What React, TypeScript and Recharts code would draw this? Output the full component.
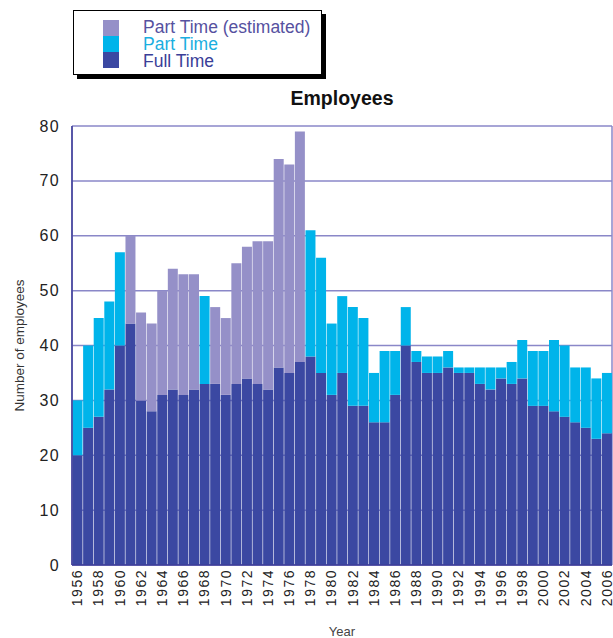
import React from 'react';
import { BarChart, Bar, XAxis, YAxis, CartesianGrid, Legend } from 'recharts';

const years = [
  1956, 1957, 1958, 1959, 1960, 1961, 1962, 1963, 1964, 1965,
  1966, 1967, 1968, 1969, 1970, 1971, 1972, 1973, 1974, 1975,
  1976, 1977, 1978, 1979, 1980, 1981, 1982, 1983, 1984, 1985,
  1986, 1987, 1988, 1989, 1990, 1991, 1992, 1993, 1994, 1995,
  1996, 1997, 1998, 1999, 2000, 2001, 2002, 2003, 2004, 2005,
  2006,
];

const fullTime = [
  20, 25, 27, 32, 40, 44, 30, 28, 31, 32,
  31, 32, 33, 33, 31, 33, 34, 33, 32, 36,
  35, 37, 38, 35, 31, 35, 29, 29, 26, 26,
  31, 40, 37, 35, 35, 36, 35, 35, 33, 32,
  34, 33, 34, 29, 29, 28, 27, 26, 25, 23,
  24,
];

const partTime = [
  10, 15, 18, 16, 17, 0, 0, 0, 0, 0,
  0, 0, 16, 0, 0, 0, 0, 0, 0, 0,
  0, 0, 23, 21, 13, 14, 18, 16, 9, 13,
  8, 7, 2, 3, 3, 3, 1, 1, 3, 4,
  2, 4, 7, 10, 10, 13, 13, 10, 11, 11,
  11,
];

const partTimeEstimated = [
  0, 0, 0, 0, 0, 16, 16, 16, 19, 22,
  22, 21, 0, 14, 14, 22, 24, 26, 27, 38,
  38, 42, 0, 0, 0, 0, 0, 0, 0, 0,
  0, 0, 0, 0, 0, 0, 0, 0, 0, 0,
  0, 0, 0, 0, 0, 0, 0, 0, 0, 0,
  0,
];

const yTicks = [0, 10, 20, 30, 40, 50, 60, 70, 80];
const yMinorTicks = [
  0, 2, 4, 6, 8, 10, 12, 14, 16, 18, 20, 22, 24, 26, 28, 30, 32, 34, 36, 38,
  40, 42, 44, 46, 48, 50, 52, 54, 56, 58, 60, 62, 64, 66, 68, 70, 72, 74, 76, 78, 80,
];

const data = years.map((year, i) => ({
  year,
  full: fullTime[i],
  part: partTime[i],
  est: partTimeEstimated[i],
}));

// vertical grid lines sit on the band boundaries before every even year
const gridTicks = years.filter((y, i) => i > 0 && y % 2 === 0).map((y) => y - 0.5);

const FONT = '"Liberation Sans", Arial, Helvetica, sans-serif';
const C_FULL = '#3b48a2';
const C_PART = '#00b4ea';
const C_EST = '#9590c8';
const C_GRID = '#8a87c8';
const C_AXIS = '#3e3e98';

const legendTextColor: Record<string, string> = {
  est: '#56519f',
  part: '#1aaee0',
  full: '#3a3e98',
};

const XTick = (props: any) => {
  const { x, y, payload } = props;
  return (
    <text
      x={x}
      y={y}
      transform={`rotate(-90 ${x} ${y})`}
      textAnchor="end"
      dominantBaseline="central"
      fontSize={14}
      letterSpacing={1.5}
      fill="#222"
      fontFamily={FONT}
    >
      {payload.value}
    </text>
  );
};

const YTick = (props: any) => {
  const { x, y, payload } = props;
  return (
    <text
      x={x}
      y={y}
      textAnchor="end"
      dominantBaseline="central"
      fontSize={16}
      letterSpacing={1.3}
      fill="#222"
      fontFamily={FONT}
    >
      {payload.value}
    </text>
  );
};

const renderLegend = (props: any) => {
  const items = [...(props.payload || [])].reverse();
  return (
    <div
      style={{
        width: 249,
        height: 65,
        border: '1px solid #000',
        boxShadow: '4px 4px 0 #000',
        background: '#fff',
        boxSizing: 'border-box',
      }}
    >
      <svg width={247} height={63} style={{ display: 'block' }}>
        {items.map((it: any, i: number) => (
          <g key={it.dataKey}>
            <rect x={29} y={9 + i * 16} width={16} height={16} fill={it.color} />
            <text
              x={69}
              y={22 + i * 16.8}
              fontSize={17.5}
              fontFamily={FONT}
              fill={legendTextColor[it.dataKey] || it.color}
            >
              {it.value}
            </text>
          </g>
        ))}
      </svg>
    </div>
  );
};

export default function App() {
  return (
    <div
      style={{
        position: 'absolute',
        left: 0,
        top: 0,
        width: 613,
        height: 638,
        overflow: 'hidden',
        background: '#fff',
        fontFamily: FONT,
      }}
    >
      <div
        style={{
          position: 'absolute',
          left: 72,
          top: 88,
          width: 540,
          textAlign: 'center',
          fontWeight: 'bold',
          fontSize: 19.5,
          lineHeight: '20px',
          color: '#111',
          zIndex: 2,
        }}
      >
        Employees
      </div>
      <BarChart
        width={613}
        height={638}
        data={data}
        margin={{ top: 126, right: 1, bottom: 0, left: 0 }}
        barCategoryGap="5%"
      >
        <CartesianGrid
          xAxisId="grid"
          stroke={C_GRID}
          strokeWidth={1.5}
          vertical
          horizontal
        />
        <XAxis
          dataKey="year"
          height={73}
          interval={1}
          tickSize={0}
          tickMargin={4}
          tickLine={false}
          axisLine={{ stroke: C_AXIS, strokeWidth: 1.5 }}
          tick={<XTick />}
          label={{ value: 'Year', position: 'insideBottom', offset: 2, fontSize: 13, fill: '#444', fontFamily: FONT }}
        />
        <XAxis
          xAxisId="grid"
          type="number"
          orientation="top"
          mirror
          height={0}
          domain={[1955.5, 2006.5]}
          allowDataOverflow
          ticks={gridTicks}
          tick={false}
          tickSize={8}
          tickLine={{ stroke: '#4a4aa0', strokeWidth: 1.5 }}
          axisLine={{ stroke: '#6a68b8', strokeWidth: 1.5 }}
        />
        <YAxis
          domain={[0, 80]}
          ticks={yTicks}
          width={72}
          tickLine={false}
          tickSize={0}
          tickMargin={12}
          axisLine={{ stroke: C_AXIS, strokeWidth: 1.5 }}
          tick={<YTick />}
          label={{
            value: 'Number of employees',
            angle: -90,
            position: 'center',
            dx: -17,
            fontSize: 13.5,
            fill: '#333',
            fontFamily: FONT,
          }}
        />
        <YAxis
          yAxisId="minorL"
          orientation="left"
          mirror
          width={0}
          domain={[0, 80]}
          ticks={yMinorTicks}
          tick={false}
          tickSize={6}
          axisLine={false}
          tickLine={{ stroke: '#4a4aa8', strokeWidth: 1.2 }}
        />
        <YAxis
          yAxisId="minorR"
          orientation="right"
          mirror
          width={0}
          domain={[0, 80]}
          ticks={yMinorTicks}
          tick={false}
          tickSize={8}
          axisLine={{ stroke: '#6a68b8', strokeWidth: 1.5 }}
          tickLine={{ stroke: '#4a4aa8', strokeWidth: 1.2 }}
        />
        <Legend
          layout="horizontal"
          verticalAlign="middle"
          align="center"
          content={renderLegend}
          wrapperStyle={{ left: 73, top: 10, width: 260, height: 70 }}
        />
        <Bar dataKey="full" name="Full Time" stackId="a" fill={C_FULL} isAnimationActive={false} />
        <Bar dataKey="part" name="Part Time" stackId="a" fill={C_PART} isAnimationActive={false} />
        <Bar dataKey="est" name="Part Time (estimated)" stackId="a" fill={C_EST} isAnimationActive={false} />
      </BarChart>
    </div>
  );
}
